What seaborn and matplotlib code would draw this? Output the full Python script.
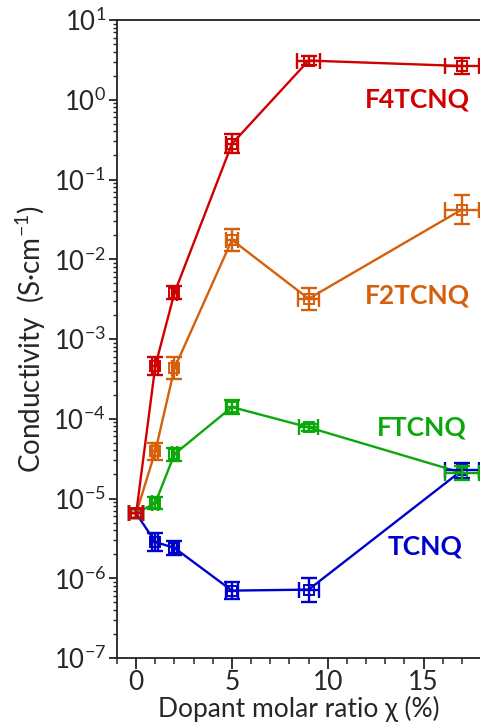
import matplotlib
matplotlib.use("Agg")
import matplotlib.pyplot as plt
import matplotlib.ticker as mticker
import numpy as np
import pandas as pd
import seaborn as sns

# ---- data ----
dopants = ["TCNQ", "FTCNQ", "F2TCNQ", "F4TCNQ"]
ratio = [0, 1, 2, 5, 9, 17]
cond_F4TCNQ = [6.5e-6, 4.6e-4, 3.8e-3, 0.28, 3.1, 2.65]
cond_F2TCNQ = [6.5e-6, 3.9e-5, 4.3e-4, 1.75e-2, 3.2e-3, 4.2e-2]
cond_FTCNQ = [6.5e-6, 8.8e-6, 3.6e-5, 1.4e-4, 7.8e-5, 2.1e-5]
cond_TCNQ = [6.5e-6, 2.85e-6, 2.4e-6, 7.0e-7, 7.2e-7, 2.25e-5]
# y error half-width in decades, x error half-width in %
yerr_dex_F4TCNQ = [0.06, 0.11, 0.08, 0.12, 0.06, 0.10]
yerr_dex_F2TCNQ = [0.06, 0.11, 0.14, 0.14, 0.14, 0.18]
yerr_dex_FTCNQ = [0.06, 0.08, 0.08, 0.09, 0.04, 0.09]
yerr_dex_TCNQ = [0.06, 0.11, 0.09, 0.11, 0.15, 0.09]
xerr_F4TCNQ = [0.35, 0.15, 0.15, 0.3, 0.6, 0.9]
xerr_F2TCNQ = [0.35, 0.15, 0.15, 0.3, 0.55, 0.9]
xerr_FTCNQ = [0.35, 0.15, 0.15, 0.3, 0.5, 0.9]
xerr_TCNQ = [0.35, 0.15, 0.15, 0.3, 0.52, 0.9]
y_ticks = [1e-7, 1e-6, 1e-5, 1e-4, 1e-3, 1e-2, 1e-1, 1e0, 1e1]
x_ticks = [0, 5, 10, 15]

colors = {"F4TCNQ": "#d10000", "F2TCNQ": "#d65f0c", "FTCNQ": "#0aa80a", "TCNQ": "#0000cc"}
cond = {"F4TCNQ": cond_F4TCNQ, "F2TCNQ": cond_F2TCNQ, "FTCNQ": cond_FTCNQ, "TCNQ": cond_TCNQ}
ydex = {"F4TCNQ": yerr_dex_F4TCNQ, "F2TCNQ": yerr_dex_F2TCNQ, "FTCNQ": yerr_dex_FTCNQ, "TCNQ": yerr_dex_TCNQ}
xerr = {"F4TCNQ": xerr_F4TCNQ, "F2TCNQ": xerr_F2TCNQ, "FTCNQ": xerr_FTCNQ, "TCNQ": xerr_TCNQ}

rows = []
for d in dopants:
    for xi, yi in zip(ratio, cond[d]):
        rows.append({"dopant": d, "ratio": xi, "cond": yi})
df = pd.DataFrame(rows)

sns.set_style("ticks")
plt.rcParams["font.family"] = ["Lato", "DejaVu Sans"]
plt.rcParams["mathtext.fontset"] = "custom"
plt.rcParams["mathtext.rm"] = "Lato"
plt.rcParams["mathtext.it"] = "Lato:italic"
plt.rcParams["mathtext.bf"] = "Lato:bold"

fig = plt.figure(figsize=(4.81, 7.27), dpi=100)
ax = fig.add_axes([117 / 481, 1 - 658 / 727, 1 - 117 / 481, (658 - 20) / 727])

sns.lineplot(data=df, x="ratio", y="cond", hue="dopant", hue_order=dopants,
             palette=colors, ax=ax, legend=False, linewidth=1.7,
             marker="s", markersize=7, markerfacecolor="none",
             markeredgewidth=1.4, estimator=None)
for line, d in zip(ax.lines, dopants):
    line.set_markeredgecolor(colors[d])

for d in dopants:
    y = np.array(cond[d])
    dex = np.array(ydex[d])
    lo = y - y * 10 ** (-dex)
    hi = y * 10 ** dex - y
    ax.errorbar(ratio, y, yerr=[lo, hi], xerr=xerr[d], fmt="none",
                ecolor=colors[d], elinewidth=1.7, capsize=6, capthick=1.7)

ax.set_yscale("log")
ax.set_ylim(1e-7, 1e1)
ax.set_xlim(-1, 18)
ax.set_xticks(x_ticks)
ax.xaxis.set_minor_locator(mticker.MultipleLocator(1))
ax.set_yticks(y_ticks)
ax.yaxis.set_major_formatter(mticker.LogFormatterSciNotation())
minor_y = [m * 10.0 ** e for e in range(-7, 1) for m in range(2, 10)]
ax.yaxis.set_minor_locator(mticker.FixedLocator(minor_y))
ax.yaxis.set_minor_formatter(mticker.NullFormatter())

ax.spines["right"].set_visible(False)
for s in ["left", "bottom", "top"]:
    ax.spines[s].set_linewidth(1.3)
    ax.spines[s].set_color("#222222")
ax.tick_params(axis="both", which="major", width=1.3, color="#222222")
ax.tick_params(axis="x", which="major", length=8, pad=1, labelsize=19)
ax.tick_params(axis="x", which="minor", length=4.5, width=1.1)
ax.tick_params(axis="y", which="major", length=6, pad=2, labelsize=18.5)
ax.tick_params(axis="y", which="minor", length=3, width=1.0)

ax.set_xlabel("Dopant molar ratio χ (%)", fontsize=19, labelpad=0)
ax.set_ylabel("Conductivity  (S·cm$^{-1}$)", fontsize=20, labelpad=4)

label_pos = {"F4TCNQ": (14.7, 1.0), "F2TCNQ": (14.7, 3.5e-3),
             "FTCNQ": (14.9, 7.7e-5), "TCNQ": (15.1, 2.5e-6)}
for d in dopants:
    ax.text(*label_pos[d], d, color=colors[d], fontsize=19, fontweight="bold",
            ha="center", va="center")

fig.savefig("out.png", dpi=100)
